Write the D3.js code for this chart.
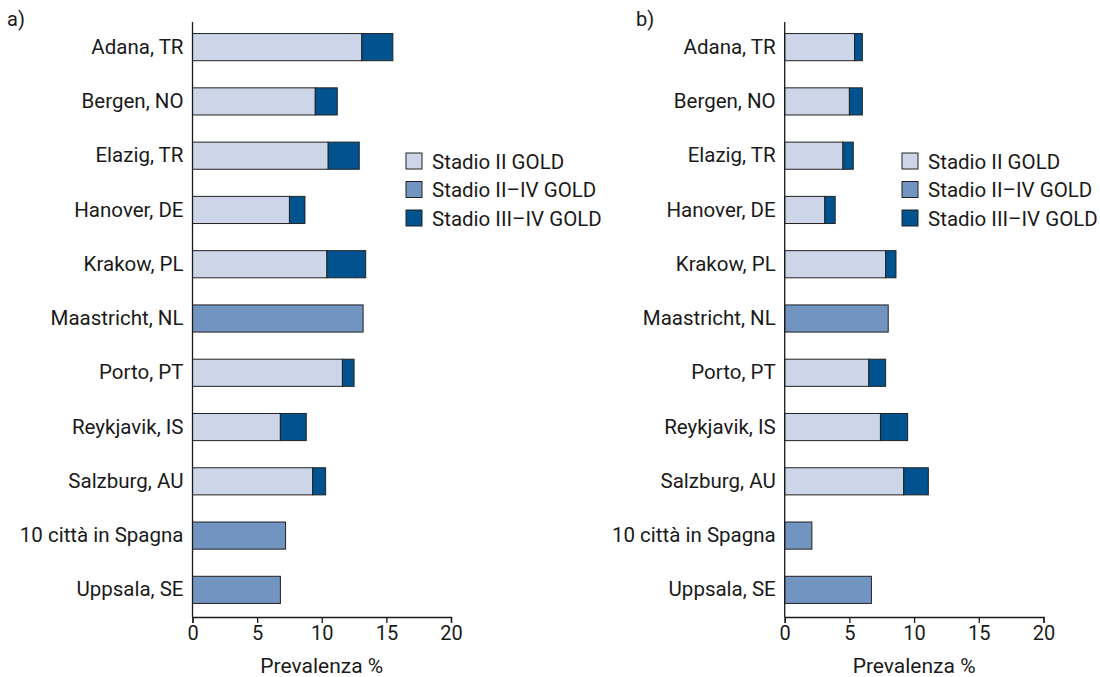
<!DOCTYPE html>
<html>
<head>
<meta charset="utf-8">
<script src="https://cdn.jsdelivr.net/npm/d3@7"></script>
<style>
  html, body { margin: 0; padding: 0; background: #fff; }
  svg text { font-family: Roboto, "DejaVu Sans", sans-serif; fill: #1a1a1a; }
</style>
</head>
<body>
<svg id="chart" width="1100" height="677"></svg>
<script>
// Sites (top to bottom)
const cities = [
  "Adana, TR", "Bergen, NO", "Elazig, TR", "Hanover, DE", "Krakow, PL",
  "Maastricht, NL", "Porto, PT", "Reykjavik, IS", "Salzburg, AU",
  "10 città in Spagna", "Uppsala, SE"
];

// Panel a) prevalence (%), by GOLD stage
const aStage2   = [13.1, 9.5, 10.5, 7.5, 10.4, 0, 11.6, 6.8, 9.3, 0, 0];
const aStage2to4 = [0, 0, 0, 0, 0, 13.2, 0, 0, 0, 7.2, 6.8];
const aStage3to4 = [2.4, 1.7, 2.4, 1.2, 3.0, 0, 0.9, 2.0, 1.0, 0, 0];

// Panel b) prevalence (%), by GOLD stage
const bStage2   = [5.4, 5.0, 4.5, 3.1, 7.8, 0, 6.5, 7.4, 9.2, 0, 0];
const bStage2to4 = [0, 0, 0, 0, 0, 8.0, 0, 0, 0, 2.1, 6.7];
const bStage3to4 = [0.6, 1.0, 0.8, 0.8, 0.8, 0, 1.3, 2.1, 1.9, 0, 0];

const seriesNames = ["Stadio II GOLD", "Stadio II\u2013IV GOLD", "Stadio III\u2013IV GOLD"];
const seriesColors = ["#cdd5e9", "#7294c1", "#00538f"];
const xTicks = [0, 5, 10, 15, 20];

const svg = d3.select("#chart");

function drawPanel(opt) {
  const { left, right, tag, tagX, s2, s24, s34, legendX } = opt;
  const top = 20, bottom = 617;

  const x = d3.scaleLinear().domain([0, 20]).range([left, right]);
  const y = d3.scaleBand().domain(cities).range([top, bottom]).paddingInner(0.5).paddingOuter(0.25);

  const g = svg.append("g");

  // stacked segments: stage II, then II–IV (single-stage sites), then III–IV
  const rows = cities.map((c, i) => ({ city: c, vals: [s2[i], s24[i], s34[i]] }));
  rows.forEach(r => {
    let acc = 0;
    r.vals.forEach((v, k) => {
      if (v <= 0) return;
      g.append("rect")
        .attr("x", x(acc))
        .attr("y", y(r.city))
        .attr("width", x(acc + v) - x(acc))
        .attr("height", y.bandwidth())
        .attr("fill", seriesColors[k])
        .attr("stroke", "#222")
        .attr("stroke-width", 1);
      acc += v;
    });
  });

  // x axis
  const xAxis = d3.axisBottom(x).tickValues(xTicks).tickSize(6).tickPadding(3);
  const xg = g.append("g").attr("transform", `translate(0,${bottom})`).call(xAxis);
  xg.select(".domain").attr("stroke", "#1a1a1a").attr("stroke-width", 1.3);
  xg.selectAll(".tick line").attr("stroke", "#1a1a1a").attr("stroke-width", 1.3);
  xg.selectAll(".tick text").attr("font-size", 20).attr("fill", "#1a1a1a")
    .style("font-family", "Roboto, sans-serif");

  // y axis line with category labels
  const yAxis = d3.axisLeft(y).tickSize(0).tickPadding(9);
  const yg = g.append("g").attr("transform", `translate(${left},0)`).call(yAxis);
  yg.select(".domain").attr("stroke", "#1a1a1a").attr("stroke-width", 1.3)
    .attr("d", `M0,${top + 2}V${bottom}`);
  yg.selectAll(".tick text").attr("font-size", 20.5).attr("fill", "#1a1a1a")
    .style("font-family", "Roboto, sans-serif");

  // axis title
  g.append("text")
    .attr("x", (left + right) / 2)
    .attr("y", 673)
    .attr("text-anchor", "middle")
    .attr("font-size", 21)
    .text("Prevalenza %");

  // panel tag
  g.append("text").attr("x", tagX).attr("y", 26).attr("font-size", 20).text(tag);

  // legend
  const lg = g.append("g").attr("transform", `translate(${legendX},153)`);
  seriesNames.forEach((name, k) => {
    const row = lg.append("g").attr("transform", `translate(0,${k * 28.5})`);
    row.append("rect").attr("x", 0).attr("y", 0).attr("width", 16).attr("height", 16)
      .attr("fill", seriesColors[k]).attr("stroke", "#222").attr("stroke-width", 1);
    row.append("text").attr("x", 26).attr("y", 15.5).attr("font-size", 20.5).text(name);
  });
}

drawPanel({ left: 192.5, right: 451, tag: "a)", tagX: 7,
  s2: aStage2, s24: aStage2to4, s34: aStage3to4, legendX: 406 });
drawPanel({ left: 784.7, right: 1043.5, tag: "b)", tagX: 636,
  s2: bStage2, s24: bStage2to4, s34: bStage3to4, legendX: 902 });
</script>
</body>
</html>
